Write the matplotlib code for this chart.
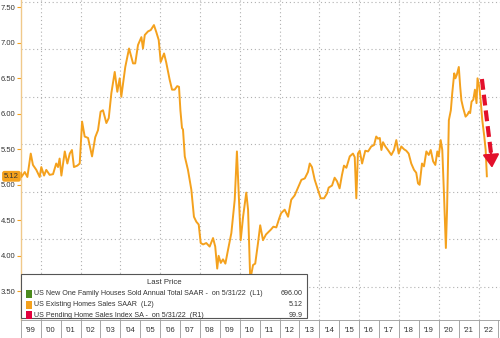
import numpy as np
import matplotlib
matplotlib.use("Agg")
import matplotlib.pyplot as plt
import matplotlib.transforms as mtransforms
from matplotlib.patches import Rectangle

# US Existing Home Sales SAAR (millions)
dates = [
    1999.00, 1999.03, 1999.20, 1999.33, 1999.50, 1999.61, 1999.78, 1999.95,
    2000.03, 2000.17, 2000.28, 2000.45, 2000.62, 2000.78, 2000.87, 2000.95,
    2001.04, 2001.21, 2001.34, 2001.46, 2001.57, 2001.67, 2001.84, 2001.96,
    2002.08, 2002.21, 2002.38, 2002.58, 2002.74, 2002.88, 2003.01, 2003.13,
    2003.30, 2003.42, 2003.55, 2003.72, 2003.85, 2003.97, 2004.05, 2004.25,
    2004.44, 2004.64, 2004.75, 2004.89, 2005.06, 2005.14, 2005.23, 2005.39,
    2005.53, 2005.69, 2005.81, 2005.93, 2006.03, 2006.20, 2006.31, 2006.48,
    2006.60, 2006.73, 2006.86, 2006.95, 2007.02, 2007.10, 2007.15, 2007.24,
    2007.40, 2007.57, 2007.70, 2007.82, 2007.94, 2008.04, 2008.16, 2008.32,
    2008.49, 2008.66, 2008.77, 2008.87, 2008.94, 2009.05, 2009.16, 2009.28,
    2009.41, 2009.58, 2009.75, 2009.86, 2009.96, 2010.05, 2010.17, 2010.33,
    2010.42, 2010.53, 2010.67, 2010.78, 2010.92, 2011.03, 2011.17, 2011.32,
    2011.57, 2011.69, 2011.84, 2011.99, 2012.08, 2012.26, 2012.43, 2012.59,
    2012.76, 2012.93, 2013.10, 2013.27, 2013.43, 2013.52, 2013.63, 2013.77,
    2013.93, 2014.07, 2014.24, 2014.39, 2014.47, 2014.64, 2014.77, 2014.89,
    2015.02, 2015.14, 2015.24, 2015.36, 2015.53, 2015.69, 2015.78, 2015.86,
    2015.94, 2016.03, 2016.15, 2016.31, 2016.45, 2016.61, 2016.75, 2016.86,
    2016.95, 2017.04, 2017.12, 2017.20, 2017.32, 2017.45, 2017.62, 2017.75,
    2017.87, 2017.99, 2018.12, 2018.26, 2018.37, 2018.49, 2018.62, 2018.76,
    2018.87, 2018.96, 2019.04, 2019.16, 2019.26, 2019.38, 2019.50, 2019.60,
    2019.72, 2019.83, 2019.93, 2020.00, 2020.10, 2020.18, 2020.27, 2020.36,
    2020.42, 2020.51, 2020.61, 2020.68, 2020.78, 2020.84, 2020.91, 2021.01,
    2021.08, 2021.14, 2021.23, 2021.35, 2021.45, 2021.52, 2021.58, 2021.65,
    2021.74, 2021.82, 2021.90, 2021.95, 2022.04, 2022.12, 2022.19, 2022.29,
    2022.36, 2022.42,
]
sales = [
    5.17, 5.11, 5.18, 5.11, 5.44, 5.28, 5.21, 5.11,
    5.25, 5.13, 5.21, 5.14, 5.15, 5.30, 5.25, 5.37,
    5.13, 5.47, 5.30, 5.44, 5.49, 5.25, 5.27, 5.30,
    5.89, 5.68, 5.66, 5.40, 5.67, 5.77, 6.03, 6.05,
    5.87, 5.94, 6.29, 6.59, 6.31, 6.50, 6.24, 6.66,
    6.92, 6.71, 6.71, 6.97, 7.08, 6.92, 7.11, 7.16,
    7.18, 7.25, 7.15, 7.04, 6.73, 6.85, 6.72, 6.48,
    6.34, 6.34, 6.39, 6.38, 6.05, 5.80, 5.78, 5.40,
    5.21, 4.93, 4.55, 4.48, 4.44, 4.18, 4.16, 4.18,
    4.13, 4.25, 4.13, 3.82, 4.00, 3.90, 3.95, 3.89,
    4.08, 4.32, 4.79, 5.47, 4.83, 4.22, 4.55, 4.89,
    4.65, 3.66, 3.87, 3.89, 4.18, 4.43, 4.22, 4.30,
    4.37, 4.41, 4.40, 4.53, 4.60, 4.65, 4.55, 4.79,
    4.85, 4.96, 5.07, 5.09, 5.18, 5.30, 5.25, 5.07,
    4.93, 4.81, 4.81, 4.88, 4.96, 4.99, 5.10, 5.05,
    4.95, 5.14, 5.27, 5.24, 5.40, 5.44, 5.39, 4.81,
    5.44, 5.48, 5.30, 5.48, 5.47, 5.54, 5.56, 5.68,
    5.65, 5.66, 5.49, 5.60, 5.54, 5.49, 5.42, 5.49,
    5.63, 5.44, 5.54, 5.50, 5.48, 5.44, 5.30, 5.21,
    5.17, 5.02, 5.00, 5.30, 5.26, 5.47, 5.42, 5.49,
    5.33, 5.28, 5.47, 5.40, 5.63, 5.49, 4.83, 4.11,
    4.65, 5.91, 6.05, 6.29, 6.57, 6.50, 6.55, 6.66,
    6.38, 6.19, 6.08, 5.96, 5.99, 6.03, 6.01, 6.17,
    6.20, 6.34, 6.15, 6.50, 6.38, 6.15, 5.91, 5.68,
    5.49, 5.12,
]

years = list(range(1999, 2023))
year_labels = ["'" + str(y)[2:] for y in years]
left_ticks = [3.50, 4.00, 4.50, 5.00, 5.50, 6.00, 6.50, 7.00, 7.50]
right_ticks = [70, 80, 90, 100, 110, 120, 130]

legend_names = [
    "US New One Family Houses Sold Annual Total SAAR -  on 5/31/22  (L1)",
    "US Existing Homes Sales SAAR  (L2)",
    "US Pending Home Sales Index SA -  on 5/31/22  (R1)",
]
legend_values = ["696.00", "5.12", "99.9"]
legend_colors = ["#4b8a1c", "#f4a11d", "#e3003c"]

last_value = 5.12
arrow_start = (2022.17, 6.49)
arrow_end = (2022.68, 5.24)

LINE = "#f4a11d"
GRID = "#b0b0b0"
TXT = "#333333"

plt.rcParams["font.family"] = ["Liberation Sans", "DejaVu Sans"]

fig = plt.figure(figsize=(5.0, 3.38), dpi=100)
ax = fig.add_axes([0.0416, 0.0533, 0.9584, 0.9467])

# hidden right axis (R1) -- its gridlines are what shows horizontally
axr = ax.twinx()
axr.set_ylim(62.99, 130.36)
axr.set_yticks(right_ticks)
axr.tick_params(axis="y", length=0, labelright=False)
axr.grid(axis="y", color=GRID, linestyle=(0, (1, 2.5)), linewidth=0.8)
for s in axr.spines.values():
    s.set_visible(False)
axr.set_zorder(0)
ax.set_zorder(1)
ax.patch.set_visible(False)

ax.plot(dates, sales, color=LINE, linewidth=1.4, zorder=3)

ax.set_xlim(1999.0, 2023.08)
ax.set_ylim(3.096, 7.603)

ax.set_yticks(left_ticks)
ax.set_yticklabels([f"{v:.2f}" for v in left_ticks])
ax.tick_params(axis="y", length=3, width=0.8, color=LINE, labelsize=5.5,
               labelcolor=TXT, pad=1)

ax.set_xticks([y + 0.5 for y in years])
ax.set_xticklabels(year_labels)
ax.set_xticks(years + [2023], minor=True)
ax.tick_params(axis="x", which="major", length=0, labelsize=5.5,
               labelcolor=TXT, pad=5)
ax.tick_params(axis="x", which="minor", length=13, width=0.6, color="#999999")

# dotted vertical grid every two years
for y in years[1::2]:
    ax.axvline(y, color=GRID, linestyle=(0, (1, 2.5)), linewidth=0.8, zorder=1)

ax.spines["top"].set_visible(False)
ax.spines["right"].set_visible(False)
ax.spines["left"].set_color("#f0c98a")
ax.spines["left"].set_linewidth(1.0)
ax.spines["bottom"].set_color("#999999")
ax.spines["bottom"].set_linewidth(0.6)

# last value tag on the left axis
trans = mtransforms.blended_transform_factory(ax.transAxes, ax.transData)
ax.text(-0.004, last_value, f"{last_value:.2f}", transform=trans, ha="right",
        va="center", fontsize=5.5, color=TXT, zorder=6, clip_on=False,
        bbox=dict(boxstyle="round,pad=0.25,rounding_size=0.3", fc=LINE,
                  ec="none"))

# red dashed arrow
ax.plot([arrow_start[0], arrow_end[0] - 0.05], [arrow_start[1], arrow_end[1] + 0.2],
        color="#e3102b", linewidth=3, linestyle=(0, (2.6, 1.2)), zorder=5,
        solid_capstyle="butt", dash_capstyle="butt")
ax.annotate("", xy=arrow_end, xytext=(arrow_end[0] - 0.07, arrow_end[1] + 0.25),
            arrowprops=dict(arrowstyle="-|>,head_length=0.8,head_width=0.5",
                            color="#e3102b", lw=1.5, shrinkA=0, shrinkB=0),
            zorder=5)

# legend box (Bloomberg style)
lx0, ly0, lw, lh = 0.0, 0.006, 0.597, 0.138
ax.add_patch(Rectangle((lx0, ly0), lw, lh, transform=ax.transAxes,
                       facecolor="white", edgecolor="#555555", linewidth=0.8,
                       zorder=8, clip_on=False))
ax.text(lx0 + lw / 2, ly0 + lh - 0.028, "Last Price", transform=ax.transAxes,
        ha="center", va="center", fontsize=5.6, color=TXT, zorder=9)
row_y = [ly0 + lh - 0.062, ly0 + lh - 0.097, ly0 + lh - 0.129]
for name, val, col, ry in zip(legend_names, legend_values, legend_colors, row_y):
    ax.add_patch(Rectangle((lx0 + 0.010, ry - 0.013), 0.013, 0.026,
                           transform=ax.transAxes, facecolor=col,
                           edgecolor="none", zorder=9))
    ax.text(lx0 + 0.027, ry, name, transform=ax.transAxes, ha="left",
            va="center", fontsize=5.1, color=TXT, zorder=9)
    ax.text(lx0 + lw - 0.008, ry, val, transform=ax.transAxes, ha="right",
            va="center", fontsize=5.1, color=TXT, zorder=9)

fig.savefig("out.png", dpi=100)
